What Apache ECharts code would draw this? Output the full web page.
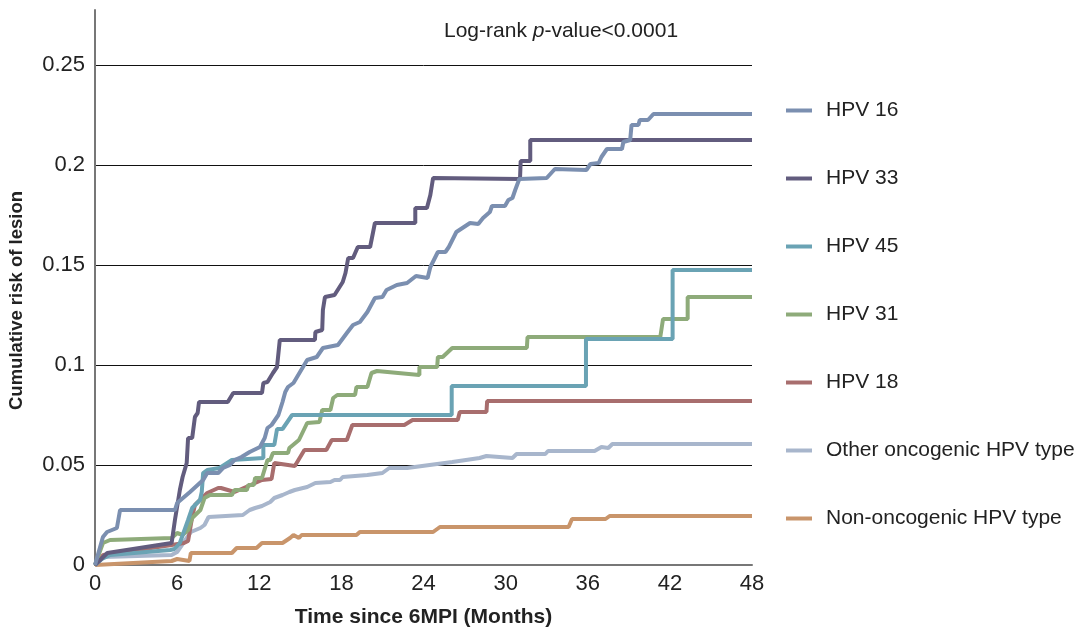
<!DOCTYPE html>
<html>
<head>
<meta charset="utf-8">
<script src="https://cdn.jsdelivr.net/npm/echarts@6/dist/echarts.min.js"></script>
<style>
  html, body { margin: 0; padding: 0; background: #fff; }
  #main { width: 1088px; height: 629px; }
</style>
</head>
<body>
<div id="main"></div>
<script>
// tick labels
var xTicks = ['0', '6', '12', '18', '24', '30', '36', '42', '48'];
var yTicks = ['0', '0.05', '0.1', '0.15', '0.2', '0.25'];
var seriesNames = ['HPV 16', 'HPV 33', 'HPV 45', 'HPV 31', 'HPV 18', 'Other oncogenic HPV type', 'Non-oncogenic HPV type'];

// [months, cumulative risk]
var hpv16 = [[0,0],[0.58,0.014],[0.88,0.0165],[1.6,0.0185],[1.83,0.0275],[5.84,0.0275],[6.0,0.031],[6.94,0.0365],[7.9,0.0425],[8.2,0.046],[9.0,0.046],[9.35,0.0485],[9.86,0.05],[10.2,0.0525],[10.7,0.054],[11.3,0.0565],[12.05,0.059],[12.4,0.0635],[12.6,0.0685],[12.9,0.07],[13.4,0.075],[13.7,0.0815],[13.9,0.0865],[14.1,0.089],[14.5,0.091],[15.5,0.1025],[16.2,0.104],[16.65,0.1085],[17.75,0.11],[18.4,0.116],[18.85,0.12],[19.35,0.1215],[19.9,0.1265],[20.45,0.1335],[21.0,0.134],[21.3,0.1375],[22.05,0.14],[22.8,0.141],[23.45,0.1445],[24.3,0.1435],[24.5,0.149],[25.05,0.1565],[25.6,0.1565],[25.85,0.159],[26.4,0.1665],[27.4,0.171],[28.0,0.1705],[28.35,0.1735],[28.85,0.1765],[29.0,0.1795],[29.95,0.1795],[30.2,0.1825],[30.5,0.1835],[30.7,0.1875],[31.0,0.193],[33.0,0.1935],[33.6,0.198],[35.9,0.1975],[36.2,0.2005],[36.8,0.201],[37.0,0.204],[37.4,0.208],[38.5,0.208],[38.6,0.2115],[39.1,0.2125],[39.2,0.22],[39.7,0.22],[39.8,0.2225],[40.4,0.2225],[40.8,0.2255],[48,0.2255]];
var hpv33 = [[0,0],[0.9,0.006],[5.6,0.011],[5.84,0.0225],[6.2,0.0375],[6.4,0.044],[6.7,0.051],[6.8,0.0635],[7.1,0.0635],[7.3,0.074],[7.5,0.076],[7.6,0.0815],[9.7,0.0815],[10.1,0.086],[12.2,0.086],[12.3,0.091],[12.6,0.0915],[13.0,0.096],[13.3,0.099],[13.5,0.1125],[16.07,0.1125],[16.1,0.1165],[16.6,0.1175],[16.65,0.1275],[16.8,0.134],[17.5,0.135],[18.1,0.1415],[18.3,0.146],[18.5,0.1535],[18.85,0.1535],[19.2,0.159],[20.1,0.159],[20.45,0.171],[23.4,0.171],[23.4,0.1785],[24.25,0.1785],[24.5,0.185],[24.7,0.1935],[31.05,0.193],[31.1,0.202],[31.8,0.202],[31.8,0.2125],[48,0.2125]];
var hpv45 = [[0,0],[0.5,0.003],[1.1,0.005],[5.5,0.0075],[5.8,0.008],[6.2,0.011],[6.8,0.0225],[7.1,0.0285],[7.67,0.0325],[7.8,0.0365],[7.9,0.046],[8.2,0.0475],[9.1,0.0485],[10.0,0.0525],[12.3,0.0535],[12.3,0.06],[13.1,0.06],[13.3,0.068],[13.7,0.068],[14.4,0.075],[26.06,0.075],[26.06,0.0895],[35.87,0.0895],[35.87,0.113],[42.2,0.113],[42.2,0.1475],[48,0.1475]];
var hpv31 = [[0,0],[0.58,0.011],[1.1,0.0125],[5.6,0.0135],[6.0,0.016],[6.4,0.015],[6.8,0.0175],[7.1,0.0235],[7.7,0.0275],[8.0,0.0335],[8.4,0.035],[10.0,0.035],[10.2,0.0375],[11.1,0.0375],[11.2,0.04],[11.6,0.04],[11.7,0.0435],[12.2,0.0435],[12.6,0.0525],[12.8,0.0525],[13.0,0.056],[14.1,0.056],[14.2,0.0585],[14.9,0.0625],[15.5,0.071],[16.4,0.0715],[16.6,0.0775],[17.2,0.0775],[17.4,0.0835],[17.7,0.085],[19.0,0.085],[19.1,0.089],[19.9,0.089],[20.2,0.096],[20.6,0.097],[23.7,0.095],[23.7,0.099],[25.0,0.099],[25.05,0.104],[25.4,0.104],[26.1,0.1085],[31.55,0.1085],[31.6,0.114],[41.3,0.114],[41.5,0.123],[43.3,0.123],[43.3,0.134],[48,0.134]];
var hpv18 = [[0,0],[0.6,0.005],[5.6,0.01],[6.5,0.011],[6.8,0.012],[7.1,0.024],[7.3,0.03],[8.2,0.036],[9.0,0.0385],[9.2,0.0385],[10.2,0.0365],[12.2,0.0425],[12.9,0.043],[13.1,0.051],[14.6,0.0495],[15.3,0.0575],[16.9,0.0575],[17.3,0.0625],[18.4,0.0625],[18.8,0.07],[22.6,0.07],[23.2,0.0725],[26.5,0.0725],[26.65,0.0765],[28.6,0.0765],[28.65,0.082],[48,0.082]];
var otherOnco = [[0,0],[0.6,0.004],[5.6,0.005],[6.0,0.0065],[7.0,0.0165],[7.7,0.0185],[8.0,0.02],[8.3,0.024],[10.8,0.025],[11.3,0.0275],[11.7,0.0285],[12.2,0.0295],[12.8,0.0315],[13.1,0.0335],[13.7,0.035],[14.2,0.0365],[14.6,0.0375],[15.5,0.039],[16.1,0.041],[17.2,0.0415],[17.5,0.0425],[17.9,0.0425],[18.1,0.044],[19.9,0.045],[21.0,0.046],[21.5,0.0485],[22.8,0.0485],[26.1,0.0515],[28.1,0.0535],[28.6,0.0545],[30.5,0.0535],[30.8,0.0555],[32.9,0.0555],[33.1,0.057],[36.5,0.057],[37.0,0.059],[37.5,0.0585],[37.8,0.0605],[48,0.0605]];
var nonOnco = [[0,0],[5.6,0.002],[6.0,0.003],[6.9,0.002],[7.0,0.006],[10.0,0.006],[10.35,0.0085],[11.8,0.0085],[12.2,0.011],[13.7,0.011],[14.25,0.0135],[14.5,0.015],[14.9,0.0135],[15.1,0.015],[19.1,0.015],[19.35,0.0165],[24.7,0.0165],[25.2,0.019],[34.6,0.019],[34.85,0.023],[37.3,0.023],[37.6,0.0245],[48,0.0245]];

var seriesData = [hpv16, hpv33, hpv45, hpv31, hpv18, otherOnco, nonOnco];
var colors = ['#7b8fb0', '#625c7e', '#6aa3b4', '#8eab7a', '#a86e6e', '#a8b6cc', '#c9956b'];
var font = 'Liberation Sans, Arial, Helvetica, sans-serif';

var myChart = echarts.init(document.getElementById('main'));
myChart.setOption({
  animation: false,
  color: colors,
  title: {
    text: '{a|Log-rank }{b|p}{a|-value<0.0001}',
    left: 439,
    top: 16,
    textStyle: {
      fontWeight: 'normal',
      rich: {
        a: { fontFamily: font, fontSize: 21, color: '#222', fontWeight: 'normal' },
        b: { fontFamily: font, fontSize: 21, color: '#222', fontWeight: 'normal', fontStyle: 'italic' }
      }
    }
  },
  legend: {
    orient: 'vertical',
    left: 781,
    top: 95,
    icon: 'rect',
    itemWidth: 26,
    itemHeight: 4,
    itemGap: 47,
    textStyle: { fontFamily: font, fontSize: 21, color: '#222', lineHeight: 19, padding: [0, 0, 0, 9] },
    data: seriesNames
  },
  grid: { left: 95, right: 336, top: 10, bottom: 64, containLabel: false, outerBoundsMode: 'none' },
  xAxis: {
    type: 'value',
    min: 0,
    max: 48,
    interval: 6,
    name: 'Time since 6MPI (Months)',
    nameLocation: 'middle',
    nameGap: 42,
    nameTextStyle: { fontFamily: font, fontSize: 21, fontWeight: 'bold', color: '#222' },
    axisLine: { lineStyle: { color: '#777', width: 2 } },
    axisTick: { show: false },
    axisLabel: {
      margin: 8,
      fontFamily: font, fontSize: 22, color: '#222',
      formatter: function (v) { return xTicks.indexOf(String(v)) >= 0 ? String(v) : ''; }
    },
    splitLine: { show: false }
  },
  yAxis: {
    type: 'value',
    min: 0,
    max: 0.2775,
    interval: 0.05,
    name: 'Cumulative risk of lesion',
    nameLocation: 'middle',
    nameGap: 69,
    nameTextStyle: { fontFamily: font, fontSize: 18.5, fontWeight: 'bold', color: '#222', padding: [0, 26, 0, 0] },
    axisLine: { show: true, lineStyle: { color: '#777', width: 2 } },
    axisTick: { show: false },
    axisLabel: {
      margin: 10,
      fontFamily: font, fontSize: 22, color: '#222',
      formatter: function (v) {
        var s = String(+v.toFixed(4));
        return yTicks.indexOf(s) >= 0 ? s : '';
      }
    },
    splitLine: { show: true, showMinLine: false, showMaxLine: false, lineStyle: { color: '#111', width: 1 } }
  },
  series: seriesData.map(function (d, i) {
    return {
      name: seriesNames[i],
      type: 'line',
      data: d,
      symbol: 'none',
      lineStyle: { width: 4, color: colors[i] },
      z: 10 - i
    };
  })
});
</script>
</body>
</html>
